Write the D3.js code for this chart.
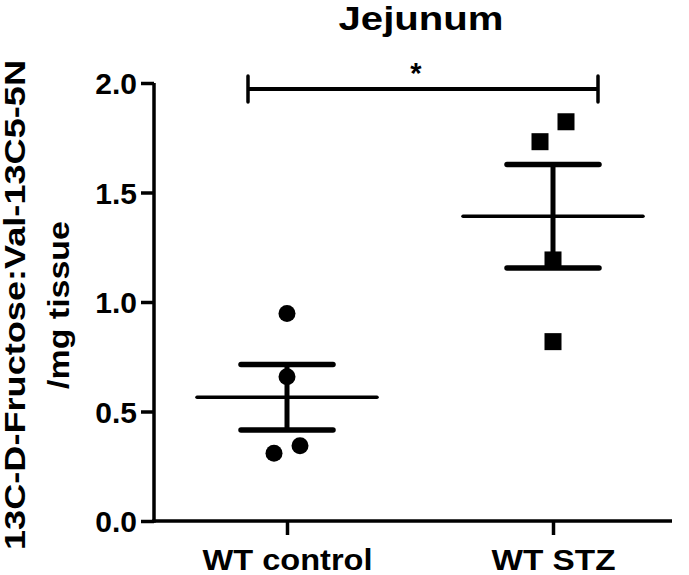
<!DOCTYPE html>
<html><head><meta charset="utf-8">
<script src="https://cdn.jsdelivr.net/npm/d3@7"></script>
<style>body{margin:0;background:#fff}svg{display:block}text{font-family:"Liberation Sans",Arial,sans-serif;font-weight:bold;fill:#000}</style>
</head><body><svg id="c" width="689" height="575"></svg>
<script>
const title = "Jejunum";
const yLabel1 = "13C-D-Fructose:Val-13C5-5N";
const yLabel2 = "/mg tissue";
const categories = ["WT control", "WT STZ"];
const controlValues = [0.948, 0.659, 0.309, 0.344];
const stzValues = [1.823, 1.732, 1.192, 0.819];
const controlJitter = [0, 0, -1, 1];
const stzJitter = [1, -1, 0, 0];
const yTicks = [0.0, 0.5, 1.0, 1.5, 2.0];
const sigLabel = "*";

const groups = [
  {name: categories[0], values: controlValues, jitter: controlJitter, shape: "circle"},
  {name: categories[1], values: stzValues, jitter: stzJitter, shape: "square"}
];
groups.forEach(g => {
  const n = g.values.length;
  g.mean = d3.mean(g.values);
  g.sem = d3.deviation(g.values) / Math.sqrt(n);
});

const svg = d3.select("#c");
const x = d3.scalePoint().domain(categories).range([287, 553]);
const y = d3.scaleLinear().domain([0, 2]).range([521, 83]);
const FONT = "Liberation Sans, Arial, sans-serif";

// axes
const yAxis = svg.append("g").attr("transform","translate(154,0)")
  .call(d3.axisLeft(y).tickValues(yTicks).tickFormat(d3.format(".1f")).tickSizeOuter(0).tickSize(13).tickPadding(4));
const xAxis = svg.append("g").attr("transform","translate(0,521)")
  .call(d3.axisBottom(x).tickSizeOuter(0).tickSize(14).tickPadding(14));
[yAxis, xAxis].forEach(a => {
  a.select(".domain").attr("stroke","#000").attr("stroke-width",3.5);
  a.selectAll(".tick line").attr("stroke","#000").attr("stroke-width",3.5);
  a.selectAll("text").attr("font-size",29).attr("font-family",FONT).attr("font-weight","bold").attr("fill","#000");
});
yAxis.select(".domain").attr("d", `M0,${y(2)}V${y(0)+1.75}`);
xAxis.select(".domain").attr("d", `M${154-1.75},0H672`);
yAxis.selectAll(".tick text").attr("dy","0.36em").attr("font-size",30);
const xLabelLen = {"WT control": 170, "WT STZ": 124};
xAxis.selectAll(".tick text").attr("dy","0.71em")
  .attr("textLength", d => xLabelLen[d]).attr("lengthAdjust","spacingAndGlyphs");

// title
svg.append("text").attr("x",421).attr("y",30).attr("text-anchor","middle").attr("font-size",33)
  .attr("textLength",165).attr("lengthAdjust","spacingAndGlyphs").text(title);

// y label
svg.append("text").attr("transform",`translate(25,305) rotate(-90)`).attr("text-anchor","middle").attr("font-size",29)
  .attr("textLength",490).attr("lengthAdjust","spacingAndGlyphs").text(yLabel1);
svg.append("text").attr("transform",`translate(69,305) rotate(-90)`).attr("text-anchor","middle").attr("font-size",29)
  .attr("textLength",168).attr("lengthAdjust","spacingAndGlyphs").text(yLabel2);

// points
const jit = 13;
groups.forEach(g => {
  const cx = x(g.name);
  g.values.forEach((v,i) => {
    const px = cx + g.jitter[i]*jit, py = y(v);
    if (g.shape === "circle") svg.append("circle").attr("cx",px).attr("cy",py).attr("r",8.5).attr("fill","#000");
    else svg.append("rect").attr("x",px-8.5).attr("y",py-8.5).attr("width",17).attr("height",17).attr("fill","#000");
  });
  svg.append("line").attr("x1",cx-90).attr("x2",cx+90).attr("y1",y(g.mean)).attr("y2",y(g.mean))
    .attr("stroke","#000").attr("stroke-width",3.5).attr("stroke-linecap","round");
  svg.append("line").attr("x1",cx).attr("x2",cx).attr("y1",y(g.mean+g.sem)).attr("y2",y(g.mean-g.sem))
    .attr("stroke","#000").attr("stroke-width",5);
  [g.mean+g.sem, g.mean-g.sem].forEach(v => {
    svg.append("line").attr("x1",cx-46).attr("x2",cx+46).attr("y1",y(v)).attr("y2",y(v))
      .attr("stroke","#000").attr("stroke-width",5.5).attr("stroke-linecap","round");
  });
});

// significance bracket
const bY = 89, bx1 = 248, bx2 = 598;
svg.append("path").attr("d",`M${bx1},${bY}H${bx2}`).attr("stroke","#000").attr("stroke-width",4);
[bx1,bx2].forEach(bx => svg.append("line").attr("x1",bx).attr("x2",bx).attr("y1",bY-13).attr("y2",bY+13)
  .attr("stroke","#000").attr("stroke-width",3.5).attr("stroke-linecap","round"));
svg.append("text").attr("x",416).attr("y",83).attr("text-anchor","middle").attr("font-size",29).text(sigLabel);
</script></body></html>
